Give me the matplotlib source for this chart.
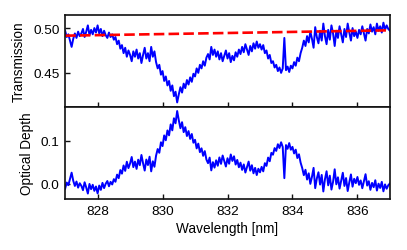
import numpy as np
import matplotlib
matplotlib.use('Agg')
import matplotlib.pyplot as plt

plt.rcParams['font.family'] = ['Liberation Sans', 'DejaVu Sans']

# wavelength grid of the trace (nm), 0.05 nm step
wavelength = np.linspace(827.0, 837.0, 201)

transmission = np.array([
    0.497, 0.490, 0.493, 0.486, 0.479, 0.488, 0.494, 0.489, 0.496, 0.491,
    0.494, 0.499, 0.490, 0.496, 0.503, 0.492, 0.498, 0.493, 0.500, 0.495,
    0.503, 0.494, 0.499, 0.491, 0.497, 0.492, 0.489, 0.495, 0.490, 0.493,
    0.487, 0.490, 0.482, 0.486, 0.477, 0.481, 0.472, 0.478, 0.468, 0.475,
    0.470, 0.463, 0.474, 0.468, 0.476, 0.466, 0.472, 0.461, 0.470, 0.478,
    0.466, 0.472, 0.463, 0.479, 0.468, 0.474, 0.462, 0.455, 0.459, 0.448,
    0.452, 0.441, 0.446, 0.436, 0.441, 0.430, 0.436, 0.424, 0.429, 0.417,
    0.426, 0.434, 0.428, 0.438, 0.433, 0.442, 0.437, 0.445, 0.440, 0.449,
    0.446, 0.455, 0.450, 0.459, 0.455, 0.463, 0.458, 0.467, 0.471, 0.465,
    0.479, 0.470, 0.476, 0.468, 0.474, 0.465, 0.472, 0.463, 0.469, 0.475,
    0.466, 0.472, 0.462, 0.469, 0.464, 0.473, 0.468, 0.476, 0.471, 0.479,
    0.473, 0.482, 0.476, 0.470, 0.480, 0.474, 0.483, 0.477, 0.485, 0.478,
    0.482, 0.476, 0.481, 0.472, 0.475, 0.466, 0.470, 0.461, 0.463, 0.456,
    0.459, 0.452, 0.456, 0.450, 0.455, 0.489, 0.453, 0.457, 0.451, 0.458,
    0.455, 0.462, 0.458, 0.467, 0.463, 0.472, 0.478, 0.486, 0.480, 0.491,
    0.484, 0.496, 0.488, 0.478, 0.501, 0.490, 0.483, 0.497, 0.486, 0.505,
    0.491, 0.482, 0.498, 0.487, 0.503, 0.494, 0.480, 0.497, 0.489, 0.502,
    0.493, 0.484, 0.499, 0.490, 0.505, 0.495, 0.486, 0.500, 0.491, 0.496,
    0.489, 0.498, 0.493, 0.502, 0.494, 0.486, 0.499, 0.494, 0.504, 0.496,
    0.501, 0.493, 0.505, 0.497, 0.502, 0.495, 0.506, 0.498, 0.503, 0.499,
    0.497,
])

# linear baseline (off-resonance transmission)
baseline_wl = [827.0, 837.0]
baseline_t = [0.4915, 0.4975]

# optical depth relative to the baseline
baseline = np.interp(wavelength, baseline_wl, baseline_t)
optical_depth = np.log(baseline / transmission)

fig = plt.figure(figsize=(4.07, 2.51), dpi=100)
ax1 = fig.add_axes([0.160, 0.570, 0.798, 0.366])
ax2 = fig.add_axes([0.160, 0.203, 0.798, 0.367], sharex=ax1)

ax1.plot(wavelength, transmission, color='#0000ff', lw=1.4)
ax1.plot(baseline_wl, baseline_t, color='#ff0000', lw=1.9, dashes=(4, 1.6))
ax2.plot(wavelength, optical_depth, color='#0000ff', lw=1.4)

ax1.set_xlim(827, 837)
ax1.set_ylim(0.412, 0.5145)
ax2.set_ylim(-0.035, 0.178)
ax1.set_yticks([0.45, 0.50])
ax1.set_yticklabels(['0.45', '0.50'])
ax2.set_yticks([0.0, 0.1])
ax2.set_yticklabels(['0.0', '0.1'])
ax2.set_xticks([828, 830, 832, 834, 836])

for ax in (ax1, ax2):
    ax.tick_params(direction='in', length=3.5, width=1, labelsize=9.7, pad=4,
                   colors='#111111', labelcolor='black')
    for s in ax.spines.values():
        s.set_linewidth(1.2)
        s.set_color('#111111')
ax1.tick_params(labelbottom=False)

ax1.set_ylabel('Transmission', fontsize=9.8, labelpad=5)
ax2.set_ylabel('Optical Depth', fontsize=9.8, labelpad=5)
ax2.set_xlabel('Wavelength [nm]', fontsize=9.8, labelpad=3)
fig.align_ylabels([ax1, ax2])

fig.savefig('out.png', dpi=100)
